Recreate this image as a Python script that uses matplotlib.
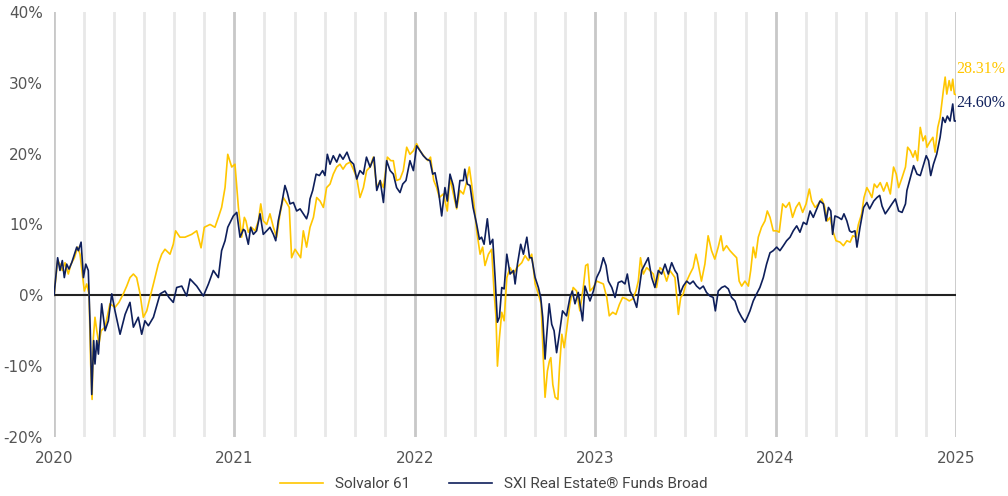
import matplotlib.pyplot as plt
import numpy as np

# decimal years (2020.0 = 1 Jan 2020) and cumulative performance in %
solvalor_t = [
    2020.000, 2020.020, 2020.033, 2020.046, 2020.061, 2020.079, 2020.094, 2020.113, 2020.131, 2020.144,
    2020.157, 2020.168, 2020.181, 2020.194, 2020.203, 2020.211, 2020.218, 2020.227, 2020.237, 2020.249,
    2020.261, 2020.283, 2020.310, 2020.338, 2020.360, 2020.384, 2020.403, 2020.421, 2020.440, 2020.458,
    2020.477, 2020.495, 2020.514, 2020.532, 2020.551, 2020.578, 2020.597, 2020.615, 2020.643, 2020.661,
    2020.674, 2020.698, 2020.726, 2020.763, 2020.791, 2020.815, 2020.833, 2020.865, 2020.892, 2020.911,
    2020.929, 2020.948, 2020.963, 2020.985, 2021.003, 2021.022, 2021.040, 2021.055,
    2021.064, 2021.077, 2021.094, 2021.114, 2021.133, 2021.146, 2021.160, 2021.179, 2021.197, 2021.216,
    2021.234, 2021.253, 2021.271, 2021.293, 2021.304, 2021.317, 2021.336, 2021.354, 2021.367, 2021.382,
    2021.400, 2021.419, 2021.438, 2021.456, 2021.475, 2021.493, 2021.511, 2021.530, 2021.548, 2021.567,
    2021.585, 2021.602, 2021.620, 2021.641, 2021.659, 2021.678, 2021.696, 2021.715, 2021.733, 2021.752,
    2021.770, 2021.789, 2021.808, 2021.826, 2021.848, 2021.867, 2021.881, 2021.899, 2021.918, 2021.936,
    2021.955, 2021.973, 2021.992,
    2022.010, 2022.029, 2022.055, 2022.073, 2022.087, 2022.105, 2022.121, 2022.136, 2022.158, 2022.180,
    2022.195, 2022.218, 2022.232, 2022.250, 2022.269, 2022.284, 2022.302, 2022.315, 2022.328, 2022.343,
    2022.362, 2022.376, 2022.389, 2022.408, 2022.426, 2022.439, 2022.450, 2022.458, 2022.469, 2022.482,
    2022.495, 2022.510, 2022.528, 2022.547, 2022.565, 2022.593, 2022.611, 2022.630, 2022.648, 2022.667,
    2022.685, 2022.700, 2022.713, 2022.722, 2022.735, 2022.746, 2022.754, 2022.765, 2022.778, 2022.793,
    2022.802, 2022.815, 2022.828, 2022.841, 2022.860, 2022.878, 2022.897, 2022.915, 2022.934, 2022.947,
    2022.959, 2022.971, 2022.989,
    2023.008, 2023.027, 2023.045, 2023.064, 2023.078, 2023.097, 2023.115, 2023.134, 2023.152, 2023.171,
    2023.189, 2023.208, 2023.226, 2023.239, 2023.251, 2023.267, 2023.285, 2023.303, 2023.322, 2023.340,
    2023.359, 2023.377, 2023.396, 2023.414, 2023.442, 2023.461, 2023.474, 2023.488, 2023.507, 2023.525,
    2023.543, 2023.558, 2023.571, 2023.589, 2023.608, 2023.626, 2023.645, 2023.663, 2023.682, 2023.697,
    2023.710, 2023.728, 2023.747, 2023.765, 2023.784, 2023.798, 2023.812, 2023.830, 2023.849, 2023.862,
    2023.876, 2023.889, 2023.904, 2023.922, 2023.941, 2023.954, 2023.969, 2023.987,
    2024.006, 2024.020, 2024.039, 2024.057, 2024.076, 2024.094, 2024.113, 2024.131, 2024.150, 2024.169,
    2024.187, 2024.200, 2024.219, 2024.237, 2024.256, 2024.271, 2024.287, 2024.302, 2024.317, 2024.335,
    2024.357, 2024.376, 2024.395, 2024.413, 2024.428, 2024.446, 2024.459, 2024.477, 2024.490, 2024.506,
    2024.521, 2024.534, 2024.547, 2024.562, 2024.580, 2024.599, 2024.617, 2024.636, 2024.654, 2024.669,
    2024.682, 2024.701, 2024.720, 2024.732, 2024.747, 2024.762, 2024.774, 2024.787, 2024.802, 2024.817,
    2024.830, 2024.839, 2024.854, 2024.872, 2024.884, 2024.899, 2024.912, 2024.921, 2024.930, 2024.940,
    2024.949, 2024.962, 2024.973, 2024.982, 2024.991, 2025.000,
]
solvalor_v = [
    0.0, 4.9, 4.4, 3.5, 4.6, 3.0, 4.4, 5.3, 6.8, 5.8,
    3.0, 0.6, 1.6, 0.2, -9.7, -14.7, -6.0, -3.1, -5.0, -6.9,
    -5.0, -4.5, -1.2, -1.7, -1.0, 0.2, 1.3, 2.5, 3.0, 2.5,
    0.2, -3.1, -2.2, -0.3, 1.6, 4.4, 5.8, 6.5, 5.8, 7.2,
    9.1, 8.2, 8.2, 8.6, 9.1, 6.7, 9.6, 10.0, 9.6, 11.0,
    12.4, 15.2, 19.9, 18.1, 18.5, 12.4, 8.2, 11.0,
    10.5, 8.9, 9.6, 9.1, 10.5, 12.9, 10.5, 10.0, 11.5, 9.6,
    8.2, 11.5, 13.8, 12.9, 12.4, 5.3, 6.5, 5.8, 5.3, 9.1,
    6.8, 9.6, 11.0, 13.8, 13.3, 12.4, 15.2, 15.7, 17.1, 18.1,
    18.5, 17.8, 18.5, 18.8, 17.8, 16.6, 13.8, 15.2, 17.6, 18.1,
    19.5, 15.2, 16.2, 15.2, 19.5, 19.0, 19.0, 16.2, 16.4, 17.6,
    20.9, 19.9, 20.4,
    21.4, 20.4, 19.5, 19.0, 19.5, 16.2, 15.2, 13.8, 14.3, 11.9,
    16.6, 13.8, 12.2, 14.8, 14.3, 15.7, 18.1, 15.7, 12.9, 9.1,
    5.8, 6.8, 4.2, 5.8, 6.5, 0.6, -3.1, -10.0, -6.0, -2.4,
    -3.6, 2.5, 3.9, 3.0, 3.9, 4.6, 5.6, 4.9, 5.8, 1.6,
    0.2, -1.2, -9.3, -14.4, -10.7, -9.3, -8.8, -12.6, -14.4, -14.7,
    -10.2, -5.5, -7.4, -5.0, -1.2, 1.1, 0.6, -2.2, 1.1, 4.2,
    4.4, 0.6, 1.1,
    2.0, 1.8, 1.6, -0.3, -2.9, -2.4, -2.7, -1.3, -0.3, -0.5,
    -0.8, -0.5, 0.6, 2.0, 5.3, 3.0, 3.9, 3.5, 3.0, 1.1,
    3.9, 3.5, 2.0, 3.5, 2.5, -2.7, -0.3, 0.2, 2.0, 3.0,
    3.9, 5.8, 4.4, 2.0, 4.4, 8.4, 6.3, 5.1, 6.8, 8.4,
    6.3, 7.0, 6.3, 5.8, 5.3, 2.0, 1.3, 2.0, 1.3, 3.5,
    6.8, 5.3, 8.2, 9.6, 10.5, 11.9, 11.0, 9.1,
    9.1, 8.9, 12.9, 12.4, 13.1, 11.0, 12.4, 13.1, 11.7, 12.9,
    15.0, 13.3, 12.4, 12.9, 13.6, 12.6, 10.5, 11.0, 9.1, 7.7,
    7.5, 7.0, 7.7, 7.5, 8.4, 8.2, 10.0, 11.5, 13.8, 15.2,
    14.5, 13.8, 15.7, 15.2, 15.9, 14.7, 15.9, 14.3, 18.1, 17.1,
    15.2, 16.6, 18.1, 20.9, 20.4, 19.5, 20.4, 19.0, 23.7, 21.8,
    22.5, 20.9, 21.6, 22.3, 20.2, 23.7, 25.1, 27.0, 28.9, 30.8,
    28.4, 30.3, 28.9, 30.5, 28.4, 28.31,
]

sxi_t = [
    2020.000, 2020.020, 2020.033, 2020.046, 2020.057, 2020.070, 2020.083, 2020.098, 2020.113, 2020.126,
    2020.135, 2020.150, 2020.163, 2020.176, 2020.190, 2020.201, 2020.209, 2020.220, 2020.227, 2020.237,
    2020.246, 2020.264, 2020.283, 2020.301, 2020.320, 2020.338, 2020.366, 2020.394, 2020.421, 2020.440,
    2020.467, 2020.486, 2020.504, 2020.523, 2020.551, 2020.588, 2020.615, 2020.637, 2020.661, 2020.680,
    2020.708, 2020.735, 2020.754, 2020.791, 2020.828, 2020.856, 2020.883, 2020.911, 2020.929, 2020.948,
    2020.963, 2020.994, 2021.013, 2021.031, 2021.050,
    2021.059, 2021.077, 2021.090, 2021.105, 2021.123, 2021.142, 2021.160, 2021.179, 2021.197, 2021.216,
    2021.229, 2021.243, 2021.262, 2021.280, 2021.293, 2021.308, 2021.327, 2021.345, 2021.364, 2021.382,
    2021.400, 2021.410, 2021.419, 2021.434, 2021.453, 2021.471, 2021.489, 2021.502, 2021.515, 2021.530,
    2021.548, 2021.567, 2021.584, 2021.602, 2021.624, 2021.641, 2021.661, 2021.678, 2021.696, 2021.715,
    2021.732, 2021.752, 2021.774, 2021.789, 2021.808, 2021.826, 2021.844, 2021.863, 2021.881, 2021.899,
    2021.918, 2021.933, 2021.951, 2021.973, 2021.992,
    2022.010, 2022.029, 2022.047, 2022.066, 2022.084, 2022.099, 2022.112, 2022.131, 2022.149, 2022.167,
    2022.180, 2022.195, 2022.213, 2022.232, 2022.250, 2022.269, 2022.277, 2022.291, 2022.306, 2022.323,
    2022.343, 2022.358, 2022.370, 2022.384, 2022.402, 2022.417, 2022.432, 2022.445, 2022.458, 2022.469,
    2022.482, 2022.495, 2022.510, 2022.528, 2022.547, 2022.556, 2022.569, 2022.587, 2022.602, 2022.621,
    2022.636, 2022.648, 2022.667, 2022.685, 2022.698, 2022.709, 2022.722, 2022.730, 2022.745, 2022.759,
    2022.772, 2022.786, 2022.801, 2022.819, 2022.841, 2022.860, 2022.873, 2022.888, 2022.906, 2022.930,
    2022.943, 2022.971, 2022.990,
    2023.008, 2023.027, 2023.045, 2023.060, 2023.073, 2023.092, 2023.110, 2023.128, 2023.147, 2023.165,
    2023.178, 2023.193, 2023.211, 2023.230, 2023.245, 2023.258, 2023.276, 2023.294, 2023.313, 2023.331,
    2023.350, 2023.368, 2023.387, 2023.405, 2023.424, 2023.442, 2023.455, 2023.470, 2023.488, 2023.507,
    2023.525, 2023.543, 2023.562, 2023.580, 2023.599, 2023.617, 2023.636, 2023.654, 2023.666, 2023.682,
    2023.701, 2023.719, 2023.738, 2023.756, 2023.775, 2023.793, 2023.812, 2023.830, 2023.843, 2023.858,
    2023.876, 2023.895, 2023.913, 2023.932, 2023.950, 2023.969, 2023.987,
    2024.006, 2024.024, 2024.043, 2024.061, 2024.080, 2024.098, 2024.117, 2024.135, 2024.154, 2024.172,
    2024.191, 2024.209, 2024.228, 2024.246, 2024.265, 2024.280, 2024.293, 2024.306, 2024.316, 2024.329,
    2024.348, 2024.366, 2024.379, 2024.395, 2024.410, 2024.422, 2024.440, 2024.451, 2024.468, 2024.488,
    2024.506, 2024.521, 2024.544, 2024.562, 2024.577, 2024.590, 2024.608, 2024.627, 2024.645, 2024.664,
    2024.682, 2024.701, 2024.720, 2024.728, 2024.747, 2024.765, 2024.784, 2024.802, 2024.821, 2024.835,
    2024.848, 2024.860, 2024.875, 2024.893, 2024.912, 2024.927, 2024.940, 2024.952, 2024.967, 2024.982,
    2024.991, 2025.000,
]
sxi_v = [
    0.0, 5.3, 3.5, 4.9, 2.5, 4.4, 3.7, 4.6, 5.8, 6.8,
    6.3, 7.5, 2.5, 4.4, 3.5, -5.0, -14.0, -6.4, -9.7, -6.4,
    -8.3, -1.2, -5.0, -3.6, 0.2, -2.2, -5.5, -2.7, -1.0, -4.5,
    -3.1, -5.5, -3.6, -4.3, -3.1, 0.2, 0.6, -0.3, -1.0, 1.1,
    1.3, -0.1, 2.3, 1.3, -0.1, 1.6, 3.5, 2.5, 6.3, 7.7,
    9.6, 11.2, 11.7, 8.2, 9.3,
    9.1, 7.2, 9.6, 8.6, 9.1, 11.5, 8.6, 9.1, 9.6, 8.6,
    7.7, 10.5, 12.9, 15.5, 14.5, 12.9, 13.1, 11.9, 12.2, 11.5,
    10.8, 11.7, 13.6, 14.8, 17.1, 16.9, 17.6, 16.9, 19.9, 18.5,
    19.7, 18.8, 19.9, 19.2, 20.2, 19.0, 18.5, 16.4, 17.6, 17.1,
    19.5, 18.1, 19.5, 14.8, 16.2, 13.1, 19.0, 17.6, 17.1, 15.2,
    14.5, 15.7, 16.2, 19.0, 17.6,
    21.1, 20.4, 19.7, 19.2, 19.0, 17.1, 17.3, 14.8, 11.2, 15.2,
    13.3, 17.1, 15.5, 12.4, 16.2, 16.2, 17.8, 15.7, 15.5, 12.4,
    10.0, 7.9, 8.2, 7.2, 10.8, 7.2, 7.9, 2.5, -3.8, -3.1,
    1.1, 0.9, 5.8, 3.0, 3.5, 1.6, 4.4, 7.2, 5.8, 8.2,
    5.3, 5.3, 2.5, 1.1, -0.3, -3.1, -9.0, -6.0, -1.2, -4.1,
    -5.0, -8.1, -5.5, -2.2, -2.9, -0.3, 0.6, -1.2, 0.4, -3.6,
    1.3, -0.8, 0.6,
    2.5, 3.5, 5.3, 4.2, 2.0, 1.1, -0.3, 1.8, 2.0, 1.6,
    3.0, 0.6, -0.3, -1.7, 1.1, 3.5, 4.4, 5.3, 2.5, 1.1,
    3.5, 3.0, 4.4, 3.0, 4.6, 3.5, 3.0, 0.2, 1.3, 2.0,
    1.6, 2.0, 1.3, 0.9, 1.3, 0.4, -0.1, -0.3, -2.2, 0.6,
    1.1, 1.3, 0.9, -0.3, -0.8, -2.2, -3.1, -3.8, -3.1, -2.2,
    -0.8, 0.2, 1.1, 2.5, 4.4, 6.0, 6.3,
    6.8, 6.3, 7.0, 7.7, 8.2, 9.1, 9.8, 8.9, 10.3, 10.0,
    11.9, 11.0, 12.2, 13.3, 12.9, 10.5, 12.4, 11.9, 8.6, 11.2,
    11.0, 10.7, 11.5, 10.5, 9.1, 8.9, 9.1, 6.8, 9.6, 12.4,
    13.1, 12.2, 13.3, 13.8, 14.1, 12.6, 11.5, 12.2, 12.9, 13.6,
    11.9, 11.7, 12.9, 14.8, 16.6, 18.3, 17.1, 16.9, 18.5, 19.7,
    19.0, 16.9, 18.5, 19.9, 22.3, 25.1, 24.4, 25.3, 24.6, 27.0,
    24.6, 24.60,
]

years = [2020, 2021, 2022, 2023, 2024, 2025]
gold = "#FFC600"
navy = "#0E1F5B"

fig = plt.figure(figsize=(10.08, 4.96), dpi=100)
ax = fig.add_axes([0.0536, 0.119, 0.8948, 0.857])
plt.rcParams['font.family'] = ['Roboto', 'DejaVu Sans']

# vertical grid: every 2 months light, years darker
for m in np.arange(2020, 2025.001, 1 / 6):
    is_year = abs(m - round(m)) < 1e-6
    ax.axvline(m, color="#c8c8c8" if is_year else "#e8e8e8", lw=2, zorder=0)
ax.axhline(0, color="#222222", lw=1.5, zorder=1)

ax.plot(solvalor_t, solvalor_v, color=gold, lw=1.2, label="Solvalor 61", zorder=2)
ax.plot(sxi_t, sxi_v, color=navy, lw=1.2, label="SXI Real Estate® Funds Broad", zorder=3)

ax.set_xlim(2020, 2025)
ax.set_ylim(-20, 40)
ax.set_xticks(years)
ax.set_xticklabels([str(y) for y in years])
ax.set_yticks(range(-20, 41, 10))
ax.set_yticklabels([f"{v}%" for v in range(-20, 41, 10)])
ax.tick_params(length=0, colors="#555555", labelsize=11)
ax.tick_params(axis="x", pad=10)
ax.tick_params(axis="y", pad=8)
for s in ax.spines.values():
    s.set_visible(False)

ax.annotate(f"{solvalor_v[-1]:.2f}%", (2025, 32.0), xytext=(0, 0), textcoords="offset points",
            color=gold, fontsize=11.5, family="Liberation Serif", va="center", ha="left")
ax.annotate(f"{sxi_v[-1]:.2f}%", (2025, 27.1), xytext=(0, 0), textcoords="offset points",
            color=navy, fontsize=11.5, family="Liberation Serif", va="center", ha="left")

leg = fig.legend(loc="lower center", bbox_to_anchor=(0.49, -0.018), ncol=2, frameon=False,
                 fontsize=11, handlelength=2.8, columnspacing=2.5, labelcolor="#444444")

fig.savefig("out.png", dpi=100)
